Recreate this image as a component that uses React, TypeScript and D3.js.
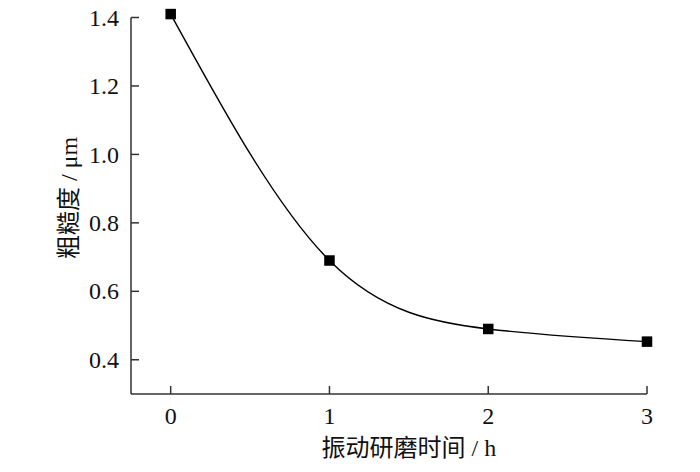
import React, { useEffect, useRef } from 'react';
import * as d3 from 'd3';

// grinding time (h) and measured roughness (μm)
const hours = [0, 1, 2, 3];
const roughness = [1.41, 0.69, 0.49, 0.453];
const xTicks = [0, 1, 2, 3];
const yTicks = [0.4, 0.6, 0.8, 1.0, 1.2, 1.4];

const xTitle = '振动研磨时间 / h';
const yTitle = '粗糙度 / μm';

const App: React.FC = () => {
  const chartRef = useRef<SVGSVGElement>(null);

  useEffect(() => {
    if (!chartRef.current) return;
    const svg = d3.select(chartRef.current);
    svg.selectAll('*').remove();

    const font = '"Liberation Serif", "Times New Roman", "Noto Sans CJK SC", serif';
    const axisColor = '#333';

    const xScale = d3.scaleLinear().domain([-0.25, 3]).range([131, 647]);
    const yScale = d3.scaleLinear().domain([0.3, 1.4]).range([394, 17.5]);

    const g = svg.append('g');

    // axes lines (left + bottom only)
    g.append('line')
      .attr('x1', xScale(-0.25)).attr('x2', xScale(-0.25))
      .attr('y1', yScale(0.3)).attr('y2', yScale(1.4))
      .attr('stroke', axisColor).attr('stroke-width', 1.5);
    g.append('line')
      .attr('x1', xScale(-0.25)).attr('x2', xScale(3))
      .attr('y1', yScale(0.3)).attr('y2', yScale(0.3))
      .attr('stroke', axisColor).attr('stroke-width', 1.5);

    // inward ticks
    const tickLen = 8;
    g.selectAll('.ytick')
      .data(yTicks)
      .enter().append('line')
      .attr('x1', xScale(-0.25)).attr('x2', xScale(-0.25) + tickLen)
      .attr('y1', d => yScale(d)).attr('y2', d => yScale(d))
      .attr('stroke', axisColor).attr('stroke-width', 1.5);
    g.selectAll('.xtick')
      .data(xTicks)
      .enter().append('line')
      .attr('x1', d => xScale(d)).attr('x2', d => xScale(d))
      .attr('y1', yScale(0.3)).attr('y2', yScale(0.3) - tickLen)
      .attr('stroke', axisColor).attr('stroke-width', 1.5);

    // tick labels
    g.selectAll('.ylabel')
      .data(yTicks)
      .enter().append('text')
      .attr('x', 119)
      .attr('y', d => yScale(d))
      .attr('dy', '0.34em')
      .attr('text-anchor', 'end')
      .style('font-family', font)
      .style('font-size', '24px')
      .attr('fill', '#111')
      .text(d => d.toFixed(1));
    g.selectAll('.xlabel')
      .data(xTicks)
      .enter().append('text')
      .attr('x', d => xScale(d))
      .attr('y', 424)
      .attr('text-anchor', 'middle')
      .style('font-family', font)
      .style('font-size', '24px')
      .attr('fill', '#111')
      .text(d => String(d));

    // axis titles
    g.append('text')
      .attr('x', xScale(1.5))
      .attr('y', 456)
      .attr('text-anchor', 'middle')
      .style('font-family', font)
      .style('font-size', '24px')
      .attr('fill', '#111')
      .text(xTitle);
    g.append('text')
      .attr('transform', 'translate(77,198) rotate(-90)')
      .attr('text-anchor', 'middle')
      .style('font-family', font)
      .style('font-size', '24px')
      .attr('fill', '#111')
      .text(yTitle);

    // smooth curve
    const pts: [number, number][] = hours.map((h, i) => [h, roughness[i]]);
    const line = d3.line<[number, number]>()
      .x(d => xScale(d[0]))
      .y(d => yScale(d[1]))
      .curve(d3.curveNatural);
    g.append('path')
      .datum(pts)
      .attr('d', line)
      .attr('fill', 'none')
      .attr('stroke', '#000')
      .attr('stroke-width', 1.4);

    // square markers
    const size = 10.5;
    g.selectAll('.marker')
      .data(pts)
      .enter().append('rect')
      .attr('x', d => xScale(d[0]) - size / 2)
      .attr('y', d => yScale(d[1]) - size / 2)
      .attr('width', size)
      .attr('height', size)
      .attr('fill', '#000');
  }, []);

  return (
    <svg
      ref={chartRef}
      width={700}
      height={472}
      style={{ position: 'absolute', left: 0, top: 0, background: '#fff' }}
    />
  );
};

export default App;
